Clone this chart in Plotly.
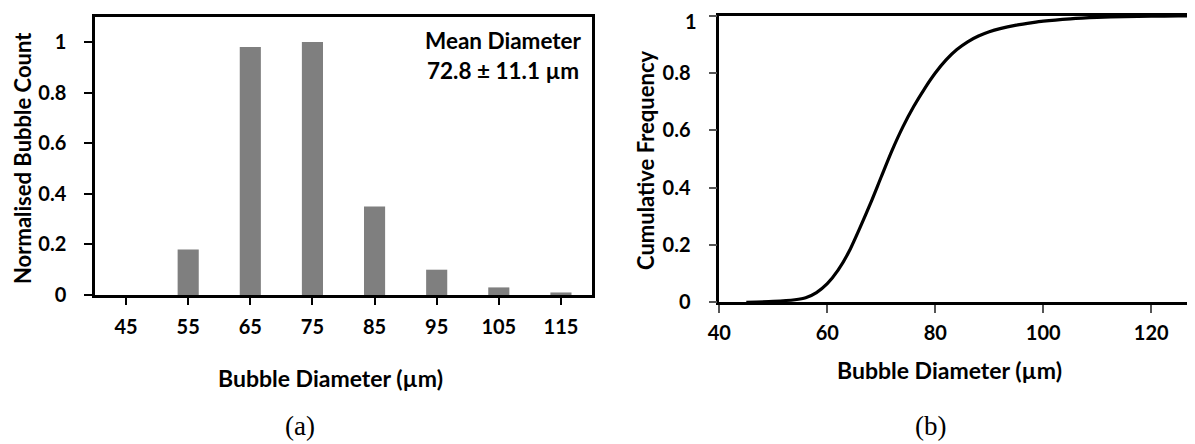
import plotly.graph_objects as go

# ---- data ----
bin_labels = ["45", "55", "65", "75", "85", "95", "105", "115"]
norm_counts = [0.0, 0.18, 0.98, 1.0, 0.35, 0.10, 0.03, 0.01]

cdf_diam = [45, 50, 54, 56, 58, 60, 62, 64, 66, 68, 70, 72, 74, 76, 78, 80,
            82, 84, 86, 88, 90, 92, 95, 98, 100, 105, 110, 115, 120, 125, 129]
cdf_freq = [0.000, 0.003, 0.009, 0.016, 0.034, 0.065, 0.112, 0.176, 0.258, 0.345,
            0.438, 0.530, 0.612, 0.683, 0.745, 0.800, 0.846, 0.882, 0.909, 0.929,
            0.944, 0.955, 0.967, 0.976, 0.981, 0.989, 0.994, 0.997, 0.998, 0.999, 1.0]

y_ticks_a = [0, 0.2, 0.4, 0.6, 0.8, 1]
y_ticks_b = [0, 0.2, 0.4, 0.6, 0.8, 1]
x_ticks_b = [40, 60, 80, 100, 120]

# page body has an 8px margin: figure origin sits at (8, 8) of the window
OFF = 8
W, H = 1195 - OFF, 444 - OFF
FONT = "Lato"

def px_x(p):
    return (p - OFF) / W

def px_y(p):
    return 1 - (p - OFF) / H

fig = go.Figure()

fig.add_trace(go.Bar(
    x=bin_labels, y=norm_counts, width=0.34,
    marker=dict(color="#7f7f7f", line=dict(color="#a6a6a6", width=0)),
    xaxis="x", yaxis="y", showlegend=False,
))

fig.add_trace(go.Scatter(
    x=cdf_diam, y=cdf_freq, mode="lines",
    line=dict(color="black", width=3.2, shape="spline", smoothing=0.8),
    xaxis="x2", yaxis="y2", showlegend=False, cliponaxis=False,
))

tickfont = dict(family=FONT, size=20, color="black", weight="bold")

# top label of panel (b) sits at the very edge; it is drawn as an annotation
ytext_b = [f"{v:g}" if v < max(y_ticks_b) else "" for v in y_ticks_b]

fig.update_layout(
    width=W, height=H,
    margin=dict(l=0, r=0, t=0, b=0, autoexpand=False),
    paper_bgcolor="white", plot_bgcolor="white",
    xaxis=dict(
        domain=[px_x(95), px_x(592)], anchor="y", automargin=False,
        type="category", range=[-0.5, 7.5],
        showline=True, linecolor="black", linewidth=2.5, mirror=True,
        ticks="outside", ticklen=7, tickwidth=1.5, tickcolor="black",
        showgrid=False, zeroline=False,
        tickfont=tickfont, ticklabelstandoff=5,
    ),
    yaxis=dict(
        domain=[px_y(295), px_y(16.7)], anchor="x", automargin=False,
        range=[0, 1.1], tickvals=y_ticks_a,
        ticktext=[f"{v:g}" for v in y_ticks_a],
        showline=True, linecolor="black", linewidth=2.5, mirror=True,
        ticks="outside", ticklen=8, tickwidth=1.5, tickcolor="black",
        showgrid=False, zeroline=False,
        tickfont=tickfont, ticklabelstandoff=14,
    ),
    xaxis2=dict(
        domain=[px_x(719.3), 1.0], anchor="y2", automargin=False,
        range=[40, 128.1], tickvals=x_ticks_b,
        showline=True, linecolor="black", linewidth=2.5, mirror=True,
        ticks="outside", ticklen=8, tickwidth=1.5, tickcolor="#555555",
        showgrid=False, zeroline=False,
        tickfont=tickfont, ticklabelstandoff=3,
    ),
    yaxis2=dict(
        domain=[px_y(302.3), px_y(15.7)], anchor="x2", automargin=False,
        range=[0, 1], tickvals=y_ticks_b, ticktext=ytext_b,
        showline=True, linecolor="black", linewidth=2.5, mirror=False,
        ticks="outside", ticklen=8, tickwidth=1.5, tickcolor="#555555",
        showgrid=False, zeroline=False,
        tickfont=tickfont, ticklabelstandoff=14,
    ),
)

ytitle_font = dict(family=FONT, size=22, color="black", weight="bold")
xtitle_font = dict(family=FONT, size=23, color="black", weight="bold")
note_font = dict(family=FONT, size=22.5, color="black", weight="bold")
cap_font = dict(family="Liberation Serif", size=27, color="black")

annotations = [
    dict(text="Normalised Bubble Count", x=px_x(22), y=px_y(158), textangle=-90,
         font=ytitle_font),
    dict(text="Bubble Diameter (µm)", x=px_x(330), y=px_y(378), font=xtitle_font),
    dict(text="Mean Diameter", x=px_x(504), y=px_y(40), font=note_font),
    dict(text="72.8 ± 11.1 µm", x=px_x(503), y=px_y(70), font=note_font),
    dict(text="(a)", x=px_x(300), y=px_y(426), font=cap_font),
    dict(text="Cumulative Frequency", x=px_x(645), y=px_y(161), textangle=-90,
         font=ytitle_font),
    dict(text="Bubble Diameter (µm)", x=px_x(949), y=px_y(370), font=xtitle_font),
    dict(text="(b)", x=px_x(930), y=px_y(426), font=cap_font),
]
for a in annotations:
    a.update(xref="paper", yref="paper", showarrow=False,
             xanchor="center", yanchor="middle")
annotations.append(dict(
    text=f"{max(y_ticks_b):g}", xref="paper", yref="paper",
    x=px_x(698), y=1.0, xanchor="right", yanchor="top",
    showarrow=False, borderpad=0, font=tickfont,
))
fig.update_layout(annotations=annotations)

fig.write_html("out.html")
